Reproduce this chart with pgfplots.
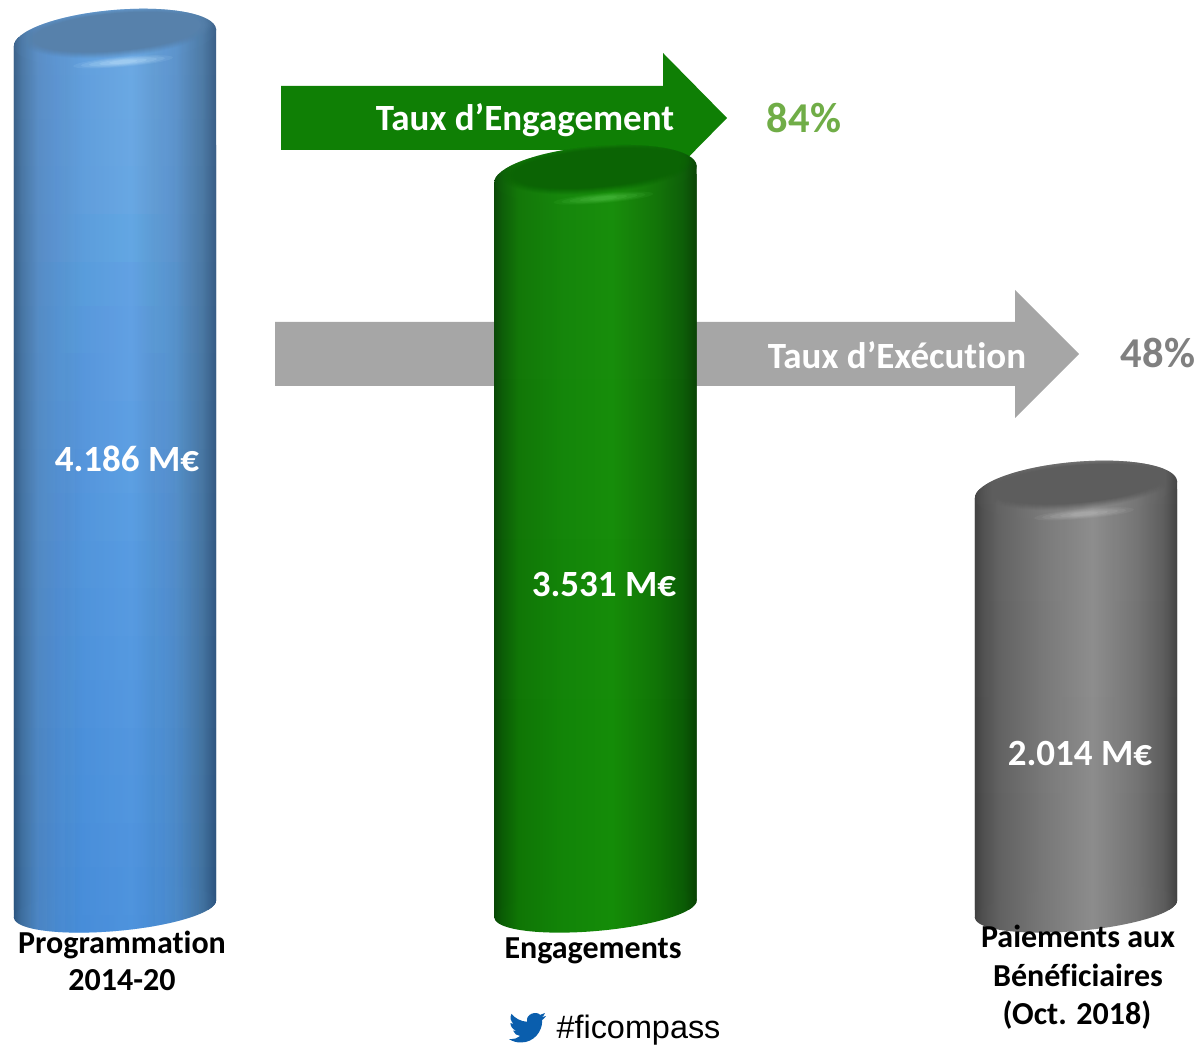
\documentclass[border=0pt]{standalone}
\usepackage{pgfplots}
\pgfplotsset{compat=1.18}
\usepackage{fontspec}
\setmainfont{Carlito}[Ligatures=NoCommon]
\newfontfamily\arialf{Liberation Sans}
\usetikzlibrary{fadings}
\definecolor{capblue}{HTML}{5781AB}
\definecolor{capgreen}{HTML}{0B6404}
\definecolor{capgray}{HTML}{5D5D5D}
\definecolor{hlblue}{HTML}{BFE2FC}
\definecolor{hlgreen}{HTML}{50C045}
\definecolor{hlgray}{HTML}{B8B8B8}
\definecolor{lowblue}{RGB}{45,120,210}
\definecolor{arrowgreen}{RGB}{15,127,5}
\definecolor{pctgreen}{RGB}{112,173,71}
\definecolor{birdblue}{RGB}{10,94,173}
\pgfdeclarehorizontalshading{bluecyl}{100bp}{
 rgb(0bp)=(.17,.33,.50); rgb(25bp)=(.17,.33,.50); rgb(27bp)=(.24,.43,.62); rgb(31bp)=(.31,.53,.76);
 rgb(42bp)=(.36,.62,.88); rgb(54bp)=(.40,.66,.91); rgb(65bp)=(.33,.56,.78); rgb(71.5bp)=(.25,.44,.62); rgb(75bp)=(.17,.32,.49); rgb(100bp)=(.17,.32,.49)}
\pgfdeclarehorizontalshading{greencyl}{100bp}{
 rgb(0bp)=(.03,.28,.02); rgb(25bp)=(.03,.28,.02); rgb(27bp)=(.04,.36,.02); rgb(31bp)=(.06,.46,.02);
 rgb(42bp)=(.07,.52,.03); rgb(54bp)=(.08,.55,.03); rgb(65bp)=(.06,.45,.02); rgb(71.5bp)=(.04,.36,.02); rgb(75bp)=(.03,.25,.01); rgb(100bp)=(.03,.25,.01)}
\pgfdeclarehorizontalshading{graycyl}{100bp}{
 rgb(0bp)=(.25,.25,.25); rgb(25bp)=(.25,.25,.25); rgb(27bp)=(.31,.31,.31); rgb(31bp)=(.38,.38,.38);
 rgb(42bp)=(.47,.47,.47); rgb(54bp)=(.55,.55,.55); rgb(65bp)=(.45,.45,.45); rgb(71.5bp)=(.36,.36,.36); rgb(75bp)=(.25,.25,.25); rgb(100bp)=(.25,.25,.25)}
\newcommand{\capell}[6]{\fill[#5,opacity=#6] (axis cs:{#1},{#2}) circle [x radius=#3pt,y radius=#4pt,rotate=5];}
\newcommand{\tint}[4]{\fill[lowblue,opacity=#4,path fading=north] (axis cs:{#1-#3},{#2+160}) rectangle (axis cs:{#1+#3},-130);}
% cylinder caps at the value of the bar: #1 x, #2 value, #3 shading, #4 cap colour, #5 highlight, #6 top light, #7 bottom tint
\newcommand{\cyl}[7]{%
 \path[shade,shading=#3] (axis cs:{#1-101.5},-42.5) -- (axis cs:{#1+101.5},42.5) -- (axis cs:{#1+101.5},{#2+42.5}) -- (axis cs:{#1-101.5},{#2-42.5}) -- cycle;
 \path[shade,shading=#3] (axis cs:{#1},0) circle [x radius=101.5pt,y radius=22pt,rotate=5];
 \path[shade,shading=#3] (axis cs:{#1},{#2}) circle [x radius=101.5pt,y radius=28pt,rotate=5];
 \fill[white,opacity=#6,path fading=south] (axis cs:{#1-103},{#2+160}) rectangle (axis cs:{#1+103},-130);
 \tint{#1}{#2}{40}{#7}
 \tint{#1}{#2}{50}{#7}
 \tint{#1}{#2}{60}{#7}
 \tint{#1}{#2}{68}{#7}
 \tint{#1}{#2}{76}{#7}
 \tint{#1}{#2}{84}{#7}
 \capell{#1+8}{#2-115}{50}{5}{#5}{.10}
 \capell{#1+8}{#2-115}{42}{4.2}{#5}{.14}
 \capell{#1+8}{#2-115}{34}{3.4}{#5}{.18}
 \capell{#1+8}{#2-115}{24}{2.6}{#5}{.22}
 \capell{#1+8}{#2-115}{14}{1.8}{#5}{.25}
 \capell{#1+2}{#2+28}{96}{25}{#4}{.12}
 \capell{#1+2}{#2+28}{94}{24}{#4}{.16}
 \capell{#1+2}{#2+28}{92}{23}{#4}{.2}
 \capell{#1+2}{#2+28}{90}{22}{#4}{.26}
 \capell{#1+2}{#2+28}{88}{21}{#4}{.32}
 \capell{#1+2}{#2+28}{86}{20}{#4}{.45}
 \capell{#1+2}{#2+28}{84}{19}{#4}{1}
}
\newcommand{\cylclip}[2]{% cx, Y of top centre
 ({#1-101.1},126.15) -- ({#1+101.1},143.85) -- ({#1+101.1},{#2+8.85}) -- ({#1-101.1},{#2-8.85}) -- cycle
 (#1,#2) circle [x radius=101.5pt,y radius=28pt,rotate=5]
 (#1,135) circle [x radius=101.5pt,y radius=22pt,rotate=5]
}
\pgfplotsset{base/.style={at={(0,0)},anchor=south west,scale only axis,width=1201pt,height=1044pt,hide axis,xmin=0,xmax=1201}}
\begin{document}
\begin{tikzpicture}[x=1pt,y=1pt]
\useasboundingbox (0,0) rectangle (1201,1044);
\begin{axis}[base,ymin=0,ymax=1044,y dir=reverse]
\addplot[fill=black!35,draw=none] coordinates {(275,322)(1015,322)(1015,290)(1079,354)(1015,418)(1015,386)(275,386)} --cycle;
\addplot[fill=arrowgreen,draw=none] coordinates {(281,86)(663,86)(663,53)(727,118)(663,183)(663,150)(281,150)} --cycle;
\end{axis}
\begin{scope}
\clip \cylclip{115}{1006} \cylclip{595.5}{869.8} \cylclip{1076}{554.1};
\begin{axis}[base,ymin=-648.7,ymax=4368.1]
\addplot[ybar,bar width=203,bar shift=0pt,draw=none,shade,shading=bluecyl] coordinates {(115,4186)};
\addplot[ybar,bar width=203,bar shift=0pt,draw=none,shade,shading=greencyl] coordinates {(595.5,3531)};
\addplot[ybar,bar width=203,bar shift=0pt,draw=none,shade,shading=graycyl] coordinates {(1076,2014)};
\cyl{115}{4186}{bluecyl}{capblue}{hlblue}{.08}{.08}
\cyl{595.5}{3531}{greencyl}{capgreen}{hlgreen}{.02}{0}
\cyl{1076}{2014}{graycyl}{capgray}{hlgray}{.02}{0}
\end{axis}
\end{scope}
\begin{scope}[font=\bfseries]
\node[white,font=\fontsize{37}{42}\selectfont\bfseries] at (525,924) {Taux d’Engagement};
\node[white,font=\fontsize{37}{42}\selectfont\bfseries] at (897,689) {Taux d’Exécution};
\node[text=pctgreen,font=\fontsize{42.5}{48}\selectfont\bfseries] at (804,926) {84\%};
\node[text=black!50,font=\fontsize{42.5}{48}\selectfont\bfseries] at (1158,691) {48\%};
\node[white,font=\fontsize{37}{42}\selectfont\bfseries] at (127,585) {4.186 M€};
\node[white,font=\fontsize{37}{42}\selectfont\bfseries] at (604,460) {3.531 M€};
\node[white,font=\fontsize{37}{42}\selectfont\bfseries] at (1080,291) {2.014 M€};
\node[font=\fontsize{32}{36}\selectfont\bfseries] at (122,99) {Programmation};
\node[font=\fontsize{32}{36}\selectfont\bfseries] at (122,64) {2014-20};
\node[font=\fontsize{32}{36}\selectfont\bfseries] at (593,93) {Engagements};
\node[font=\fontsize{32}{36}\selectfont\bfseries] at (1078,108) {Paiements aux};
\node[font=\fontsize{32}{36}\selectfont\bfseries] at (1078,69) {Bénéficiaires};
\node[font=\fontsize{32}{36}\selectfont\bfseries] at (1077,29) {(Oct. 2018)};
\end{scope}
\node[font=\fontsize{32.4}{36}\selectfont\arialf] at (638.5,14) {\#ficompass};
\begin{scope}[shift={(509,35)},x=1.54pt,y=-1.54pt]
\fill[birdblue] (23.95,4.57) -- (21.13,5.35) .. controls (22.2,4.9) and (22.9,3.8) .. (23.29,2.62)
 .. controls (22.34,3.18) and (21.29,3.58) .. (20.17,3.81) .. controls (18,1) and (10.5,3.2) .. (11.78,8.29)
 .. controls (7.69,8.1) and (4.07,6.13) .. (1.64,3.16) .. controls (0.3,5.2) and (1.1,8.3) .. (3.16,9.73)
 -- (0.93,9.12) -- (0.93,9.18) .. controls (1,11.6) and (2.6,13.5) .. (4.88,14) -- (2.67,14.09)
 .. controls (3.3,16) and (5.1,17.4) .. (7.27,17.5) .. controls (5.5,18.9) and (3.4,19.7) .. (1.17,19.6)
 -- (0,19.54) .. controls (2.2,21) and (4.9,21.75) .. (7.56,21.75) .. controls (16.6,21.75) and (21.56,14.25) .. (21.56,7.76)
 -- (21.54,7.14) .. controls (22.5,6.5) and (23.3,5.6) .. (24,4.59) -- cycle;
\end{scope}
\end{tikzpicture}
\end{document}
